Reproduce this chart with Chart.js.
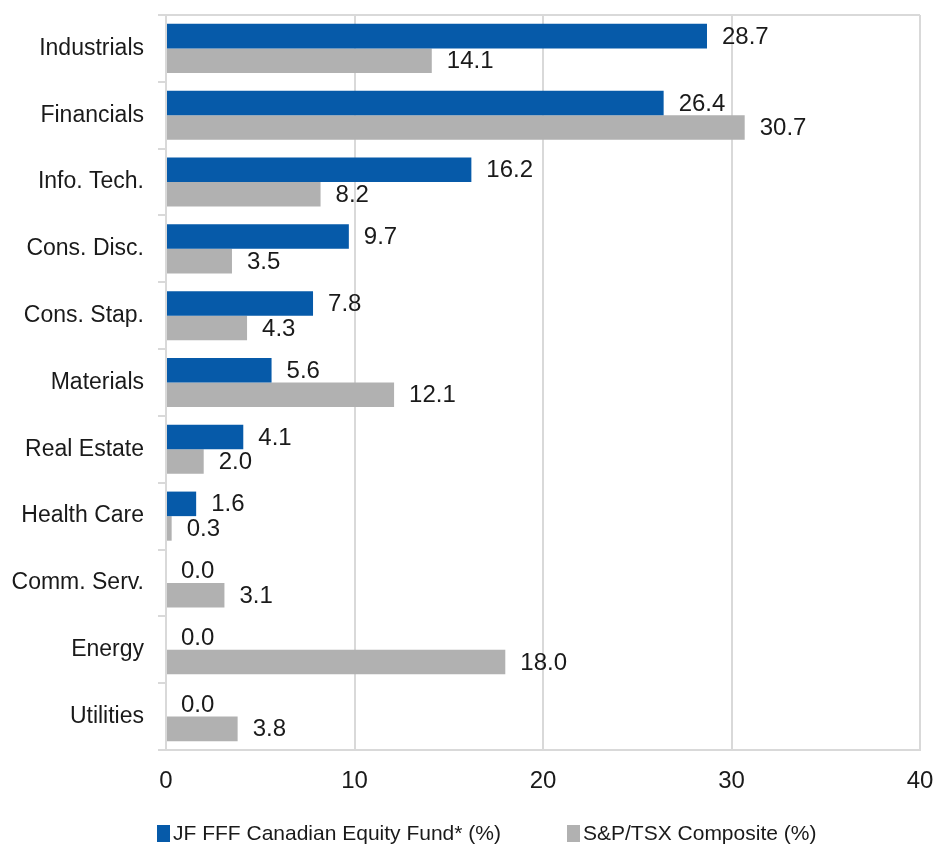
<!DOCTYPE html>
<html>
<head>
<meta charset="utf-8">
<script src="https://cdn.jsdelivr.net/npm/chart.js@4"></script>
<style>
  html, body { margin: 0; padding: 0; background: #fff; }
  #wrap { width: 937px; height: 848px; }
</style>
</head>
<body>
<div id="wrap"><canvas id="sectorChart"></canvas></div>
<script>
const sectors = ['Industrials', 'Financials', 'Info. Tech.', 'Cons. Disc.', 'Cons. Stap.', 'Materials',
    'Real Estate', 'Health Care', 'Comm. Serv.', 'Energy', 'Utilities'];
const fundWeights = [28.7, 26.4, 16.2, 9.7, 7.8, 5.6, 4.1, 1.6, 0.0, 0.0, 0.0];
const indexWeights = [14.1, 30.7, 8.2, 3.5, 4.3, 12.1, 2.0, 0.3, 3.1, 18.0, 3.8];
const seriesNames = ['JF FFF Canadian Equity Fund* (%)', 'S&P/TSX Composite (%)'];
const seriesColors = ['#065aa9', '#b1b1b1'];
const xTicks = [0, 10, 20, 30, 40];

const gridGrey = '#d9d9d9';
const textColor = '#1a1a1a';

// draws the value at the end of each bar
const valueLabels = {
    id: 'valueLabels',
    afterDatasetsDraw(chart) {
        const ctx = chart.ctx;
        ctx.save();
        ctx.font = '24px "Liberation Sans", Arial, sans-serif';
        ctx.fillStyle = textColor;
        ctx.textAlign = 'left';
        ctx.textBaseline = 'middle';
        chart.data.datasets.forEach((ds, i) => {
            chart.getDatasetMeta(i).data.forEach((bar, j) => {
                ctx.fillText(ds.data[j].toFixed(1), bar.x + 15, bar.y + 1);
            });
        });
        ctx.restore();
    }
};

// legend at the bottom, items spaced like the original
const bottomLegend = {
    id: 'bottomLegend',
    afterDraw(chart) {
        const ctx = chart.ctx;
        const y = chart.height - 15;
        const starts = [157, 567];
        ctx.save();
        ctx.font = '21px "Liberation Sans", Arial, sans-serif';
        ctx.textBaseline = 'middle';
        ctx.textAlign = 'left';
        chart.data.datasets.forEach((ds, i) => {
            ctx.fillStyle = ds.backgroundColor;
            ctx.fillRect(starts[i], y - 8, 13, 17);
            ctx.fillStyle = textColor;
            ctx.fillText(ds.label, starts[i] + 16, y + 1);
        });
        ctx.restore();
    }
};

new Chart(document.getElementById('sectorChart').getContext('2d'), {
    type: 'bar',
    data: {
        labels: sectors,
        datasets: [{
            label: seriesNames[0],
            data: fundWeights,
            backgroundColor: seriesColors[0],
            borderWidth: 0,
            barPercentage: 1,
            categoryPercentage: 0.735
        }, {
            label: seriesNames[1],
            data: indexWeights,
            backgroundColor: seriesColors[1],
            borderWidth: 0,
            barPercentage: 1,
            categoryPercentage: 0.735
        }]
    },
    options: {
        indexAxis: 'y',
        responsive: true,
        maintainAspectRatio: false,
        animation: false,
        layout: { padding: { top: 15, right: 17, left: 0, bottom: 56 } },
        plugins: {
            legend: { display: false },
            tooltip: { enabled: false }
        },
        scales: {
            x: {
                min: 0,
                max: 40,
                afterBuildTicks: (scale) => { scale.ticks = xTicks.map(v => ({ value: v })); },
                afterFit: (scale) => {
                    scale.height = 42;
                    scale.paddingLeft = 0;
                    scale.paddingRight = 0;
                },
                grid: { color: gridGrey, lineWidth: 2, drawTicks: false },
                border: { color: gridGrey, width: 2 },
                ticks: {
                    padding: 17,
                    color: textColor,
                    font: { family: '"Liberation Sans", Arial, sans-serif', size: 24 }
                }
            },
            y: {
                afterFit: (scale) => {
                    scale.width = 166;
                    scale.paddingTop = 0;
                    scale.paddingBottom = 0;
                },
                grid: {
                    offset: true,
                    lineWidth: 2,
                    color: (c) => (c.index === 0 || c.index === sectors.length) ? gridGrey : 'rgba(0,0,0,0)',
                    tickColor: gridGrey,
                    tickLength: 8
                },
                border: { color: gridGrey, width: 2 },
                ticks: {
                    padding: 14,
                    color: textColor,
                    font: { family: '"Liberation Sans", Arial, sans-serif', size: 23 }
                }
            }
        }
    },
    plugins: [valueLabels, bottomLegend]
});
</script>
</body>
</html>
